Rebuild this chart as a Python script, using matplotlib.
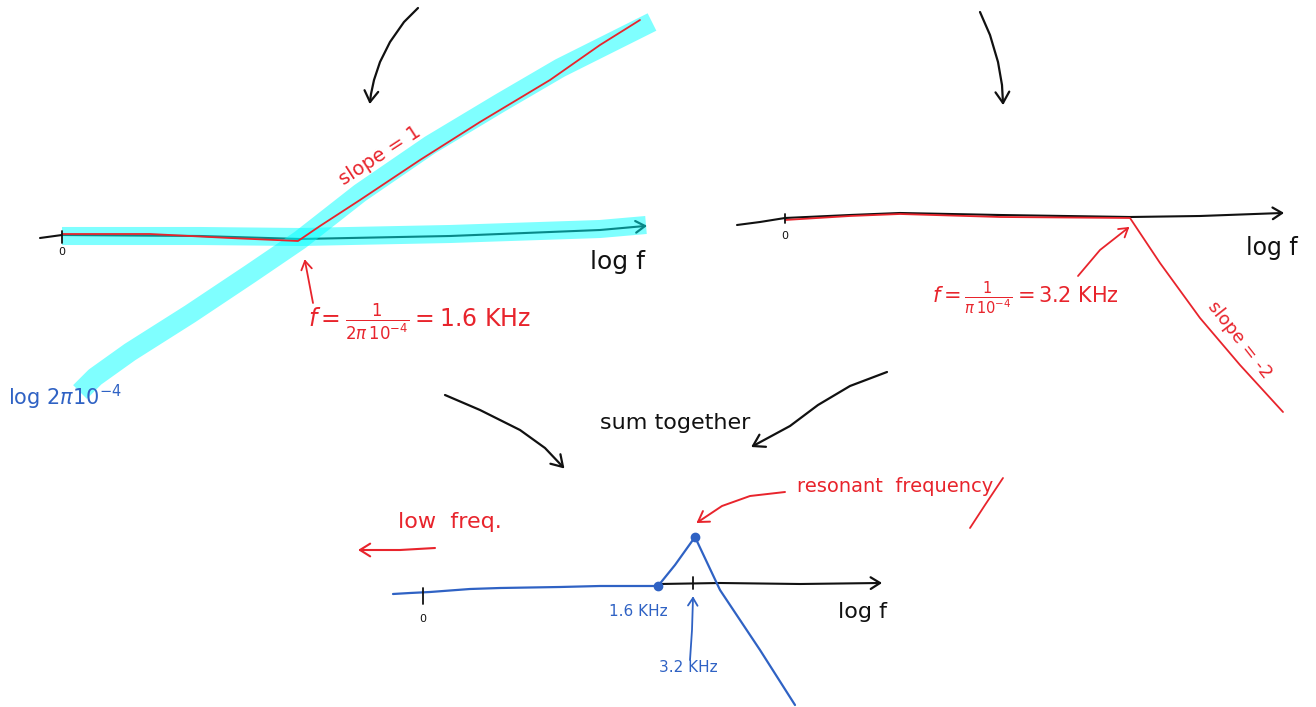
import numpy as np
import matplotlib
matplotlib.use("Agg")
import matplotlib.pyplot as plt

plt.rcParams['font.family'] = ['DejaVu Sans']
plt.rcParams['mathtext.fontset'] = 'dejavusans'
plt.rcParams['lines.solid_joinstyle'] = 'round'
plt.rcParams['lines.solid_capstyle'] = 'round'

# ---- colours ----
RED = '#e8242c'
BLUE = '#2f62c4'
CYAN = '#00ffff'
INK = '#111111'

# ---- stroke data (canvas pixel coordinates, y grows downward) ----
# top-left panel: slope = 1 asymptote sketch
arrow1_x = [418, 404, 390, 380, 374, 371, 370]
arrow1_y = [8, 22, 42, 62, 80, 94, 102]
axis1_x = [40, 62, 200, 300, 450, 600, 645]
axis1_y = [238, 235, 236, 239, 236, 230, 226]
band_flat_x = [62, 200, 300, 450, 600, 646]
band_flat_y = [236, 236, 237, 234, 229, 225]
band_diag_x = [80, 95, 130, 190, 250, 300, 360, 430, 500, 560, 652]
band_diag_y = [392, 377, 352, 314, 274, 240, 193, 145, 103, 68, 22]
red1_x = [62, 150, 230, 298, 320, 360, 420, 480, 550, 600, 640]
red1_y = [234, 234, 238, 241, 226, 200, 160, 122, 80, 45, 20]
pointer1_x = [313, 309, 305]
pointer1_y = [303, 282, 261]

# top-right panel: slope = -2 asymptote sketch
arrow2_x = [980, 990, 998, 1002, 1003]
arrow2_y = [12, 35, 62, 85, 103]
axis2_x = [737, 760, 785, 850, 900, 1000, 1130, 1200, 1282]
axis2_y = [225, 222, 218, 215, 213, 215, 217, 216, 213]
red2_x = [785, 850, 900, 1000, 1130, 1160, 1200, 1240, 1283]
red2_y = [220, 216, 214, 217, 218, 263, 318, 365, 412]
pointer2_x = [1078, 1100, 1128]
pointer2_y = [276, 250, 228]

# middle arrows towards the summed plot
arrowL_x = [445, 480, 520, 545, 563]
arrowL_y = [395, 410, 430, 448, 467]
arrowR_x = [887, 850, 818, 790, 753]
arrowR_y = [372, 386, 405, 426, 446]

# bottom panel: summed response
axis3_x = [660, 720, 800, 880]
axis3_y = [584, 583, 584, 583]
sum_x = [393, 410, 430, 470, 500, 560, 600, 658, 675, 695, 720, 760, 795]
sum_y = [594, 593, 592, 589, 588, 587, 586, 586, 565, 537, 590, 650, 705]
corner_x = [658, 695]
corner_y = [586, 537]
low_arrow_x = [435, 400, 360]
low_arrow_y = [548, 550, 550]
res_arrow_x = [785, 750, 722, 698]
res_arrow_y = [492, 496, 506, 522]
res_stray_x = [1003, 985, 970]
res_stray_y = [478, 505, 528]
pointer3_x = [690, 692, 693]
pointer3_y = [660, 630, 598]

# axis ticks: (x, y_top, y_bottom)
ticks = [(62, 231, 243), (785, 214, 223), (423, 588, 604), (693, 577, 589)]


def chevron(ax, xs, ys, color, size=13, lw=1.6):
    """Open hand-drawn arrow head at the end of a stroke."""
    dx, dy = xs[-1] - xs[-2], ys[-1] - ys[-2]
    ang = np.arctan2(dy, dx)
    for s in (+1, -1):
        a = ang + np.pi + s * np.radians(32)
        ax.plot([xs[-1], xs[-1] + size * np.cos(a)],
                [ys[-1], ys[-1] + size * np.sin(a)],
                color=color, lw=lw)


fig = plt.figure(figsize=(13.16, 7.07), dpi=100)
ax = fig.add_axes([0, 0, 1, 1])
ax.set_xlim(0, 1316)
ax.set_ylim(707, 0)
ax.axis('off')

# ---------------- top-left panel ----------------
ax.plot(arrow1_x, arrow1_y, color=INK, lw=1.6)
chevron(ax, arrow1_x, arrow1_y, INK)
ax.plot(axis1_x, axis1_y, color=INK, lw=1.5)
chevron(ax, axis1_x, axis1_y, INK, size=11)
ax.plot(band_flat_x, band_flat_y, color=CYAN, alpha=0.5, lw=13,
        solid_capstyle='butt')
ax.plot(band_diag_x, band_diag_y, color=CYAN, alpha=0.5, lw=14,
        solid_capstyle='butt')
ax.plot(red1_x, red1_y, color=RED, lw=1.3)
ax.plot(pointer1_x, pointer1_y, color=RED, lw=1.3)
chevron(ax, pointer1_x, pointer1_y, RED, size=10, lw=1.3)

ax.text(380, 156, 'slope = 1', color=RED, fontsize=14, rotation=33,
        ha='center', va='center')
ax.text(420, 322, r'$f=\frac{1}{2\pi\,10^{-4}}=1.6\ \mathrm{KHz}$', color=RED,
        fontsize=17, ha='center', va='center')
ax.text(8, 397, r'log $2\pi10^{-4}$', color=BLUE, fontsize=15,
        ha='left', va='center')
ax.text(618, 262, 'log f', color=INK, fontsize=18, ha='center', va='center')

# ---------------- top-right panel ----------------
ax.plot(arrow2_x, arrow2_y, color=INK, lw=1.6)
chevron(ax, arrow2_x, arrow2_y, INK)
ax.plot(axis2_x, axis2_y, color=INK, lw=1.5)
chevron(ax, axis2_x, axis2_y, INK, size=11)
ax.plot(red2_x, red2_y, color=RED, lw=1.3)
ax.plot(pointer2_x, pointer2_y, color=RED, lw=1.3)
chevron(ax, pointer2_x, pointer2_y, RED, size=10, lw=1.3)

ax.text(1025, 298, r'$f=\frac{1}{\pi\,10^{-4}}=3.2\ \mathrm{KHz}$', color=RED,
        fontsize=15, ha='center', va='center')
ax.text(1240, 340, 'slope = -2', color=RED, fontsize=13, rotation=-52,
        ha='center', va='center')
ax.text(1272, 248, 'log f', color=INK, fontsize=17, ha='center', va='center')

# ---------------- middle ----------------
ax.plot(arrowL_x, arrowL_y, color=INK, lw=1.6)
chevron(ax, arrowL_x, arrowL_y, INK)
ax.plot(arrowR_x, arrowR_y, color=INK, lw=1.6)
chevron(ax, arrowR_x, arrowR_y, INK)
ax.text(675, 423, 'sum together', color=INK, fontsize=16, ha='center', va='center')

# ---------------- bottom panel ----------------
ax.plot(axis3_x, axis3_y, color=INK, lw=1.5)
chevron(ax, axis3_x, axis3_y, INK, size=11)
ax.plot(sum_x, sum_y, color=BLUE, lw=1.6)
ax.plot(corner_x, corner_y, 'o', color=BLUE, ms=6)
ax.plot(pointer3_x, pointer3_y, color=BLUE, lw=1.3)
chevron(ax, pointer3_x, pointer3_y, BLUE, size=9, lw=1.3)
ax.plot(low_arrow_x, low_arrow_y, color=RED, lw=1.5)
chevron(ax, low_arrow_x, low_arrow_y, RED, size=12, lw=1.5)
ax.plot(res_arrow_x, res_arrow_y, color=RED, lw=1.4)
chevron(ax, res_arrow_x, res_arrow_y, RED, size=12, lw=1.4)
ax.plot(res_stray_x, res_stray_y, color=RED, lw=1.3)

for tx, y0, y1 in ticks:
    ax.plot([tx, tx], [y0, y1], color=INK, lw=1.3)

for tx, ty in [(62, 252), (785, 236), (423, 619)]:
    ax.text(tx, ty, '0', color=INK, fontsize=8, ha='center', va='center')

ax.text(862, 612, 'log f', color=INK, fontsize=16, ha='center', va='center')
ax.text(638, 611, '1.6 KHz', color=BLUE, fontsize=11, ha='center', va='center')
ax.text(688, 667, '3.2 KHz', color=BLUE, fontsize=11, ha='center', va='center')
ax.text(450, 522, 'low  freq.', color=RED, fontsize=16, ha='center', va='center')
ax.text(895, 487, 'resonant  frequency', color=RED, fontsize=14,
        ha='center', va='center')

fig.savefig('out.png', dpi=100)
